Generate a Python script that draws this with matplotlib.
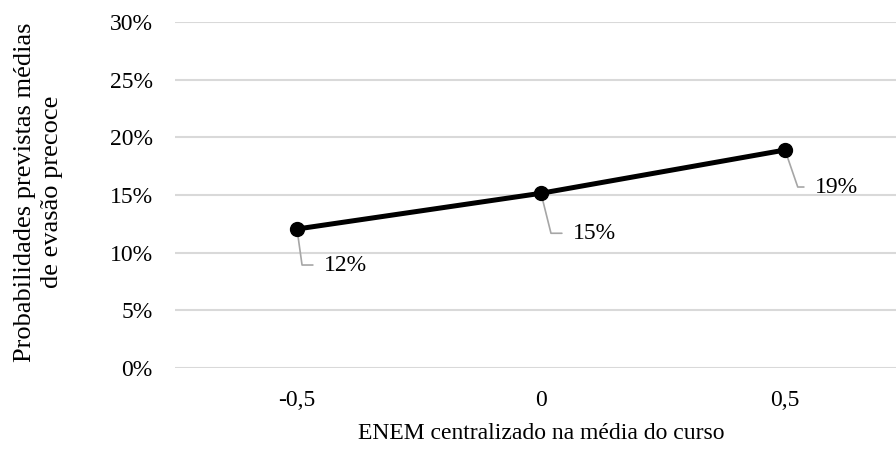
import matplotlib
matplotlib.use('Agg')
import matplotlib.pyplot as plt
from matplotlib.ticker import FuncFormatter

plt.rcParams['font.family'] = ['Liberation Serif', 'DejaVu Serif']

# data
categorias = ['-0,5', '0', '0,5']
probabilidades = [12.05, 15.15, 18.9]
rotulos = ['12%', '15%', '19%']
yticks = [0, 5, 10, 15, 20, 25, 30]

fig = plt.figure(figsize=(8.96, 4.66), dpi=100)
ax = fig.add_axes([0.1953, 0.2103, 0.817, 0.7425])

x = range(len(categorias))
ax.plot(x, probabilidades, color='black', lw=3.6, marker='o', ms=10,
        solid_capstyle='round', zorder=3)

# data labels with gray leader lines
offsets = [(27, -36), (32, -40), (30, -37)]
angulos = [98, 104, 109]
for xi, yi, lab, off, ang in zip(x, probabilidades, rotulos, offsets, angulos):
    ax.annotate(lab, xy=(xi, yi), xytext=off, textcoords='offset pixels',
                ha='left', va='center', fontsize=17, zorder=1,
                arrowprops=dict(arrowstyle='-', color='#a6a6a6', lw=1.2,
                                shrinkA=6, shrinkB=0, relpos=(0, 0.5),
                                connectionstyle='angle,angleA=0,angleB=%d,rad=0' % ang))

ax.set_xlim(-0.5, len(categorias) - 0.5)
ax.set_xticks(list(x))
ax.set_xticklabels(categorias)
ax.set_ylim(0, 30)
ax.set_yticks(yticks)
ax.yaxis.set_major_formatter(FuncFormatter(lambda v, p: '%d%%' % v))
ax.grid(axis='y', color='#d9d9d9', lw=1.5)
ax.set_axisbelow(True)
for s in ax.spines.values():
    s.set_visible(False)
ax.tick_params(length=0, labelsize=17)
ax.tick_params(axis='y', pad=16)
ax.tick_params(axis='x', pad=16)

ax.set_xlabel('ENEM centralizado na média do curso', fontsize=17, va='center')
ax.xaxis.set_label_coords(0.5, -0.19)
ax.set_ylabel('Probabilidades previstas médias\nde evasão precoce', fontsize=19,
              linespacing=1.3, va='center')
ax.yaxis.set_label_coords(-0.186, 0.509)

fig.savefig('out.png', dpi=100)
